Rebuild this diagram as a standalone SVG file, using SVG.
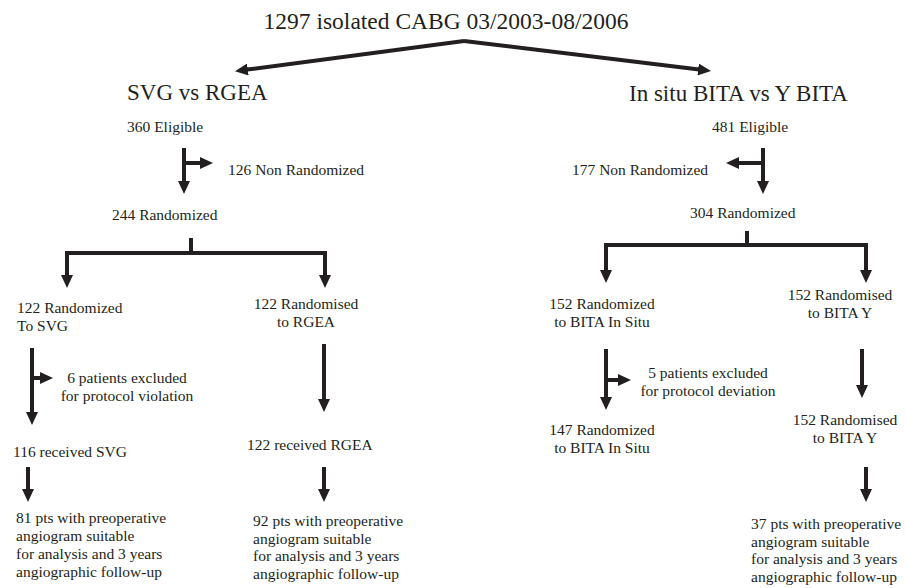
<svg xmlns="http://www.w3.org/2000/svg" width="906" height="588" viewBox="0 0 906 588">
<defs>
<marker id="ah" viewBox="0 0 13 12" refX="1" refY="6" markerWidth="13" markerHeight="12" markerUnits="userSpaceOnUse" orient="auto">
<path d="M0,0 L13,6 L0,12 z" fill="#231f20"/>
</marker>
<style>
text{font-family:"Liberation Serif","Times New Roman",serif;fill:#231f20;font-size:15.5px}
.big{font-size:23px}
.title{font-size:23.5px}
.m{text-anchor:middle}
.c path{fill:none;stroke:#231f20;stroke-width:4;stroke-linejoin:miter}
.c .a{marker-end:url(#ah)}
</style>
</defs>
<rect width="906" height="588" fill="#fff"/>
<g id="title"><text class="title m" x="446" y="29">1297 isolated CABG 03/2003-08/2006</text></g>
<g id="svg-rgea"><text class="big" x="127" y="100">SVG vs RGEA</text></g>
<g id="bita"><text class="big" x="629" y="101">In situ BITA vs Y BITA</text></g>
<g id="elig-l"><text x="127" y="132">360 Eligible</text></g>
<g id="nonrand-l"><text x="228" y="175">126 Non Randomized</text></g>
<g id="elig-r"><text x="712" y="132">481 Eligible</text></g>
<g id="nonrand-r"><text x="572" y="175">177 Non Randomized</text></g>
<g id="rand-l"><text x="112" y="220">244 Randomized</text></g>
<g id="rand-r"><text x="690" y="218">304 Randomized</text></g>
<g id="rand-svg"><text x="17" y="313">122 Randomized</text><text x="17" y="331">To SVG</text></g>
<g id="rand-rgea"><text class="m" x="306" y="309">122 Randomised</text><text class="m" x="306" y="327">to RGEA</text></g>
<g id="excl-l"><text class="m" x="127" y="383">6 patients excluded</text><text class="m" x="127" y="401">for protocol violation</text></g>
<g id="recv-svg"><text x="13" y="457">116 received SVG</text></g>
<g id="recv-rgea"><text x="247" y="450">122 received RGEA</text></g>
<g id="fu-svg"><text x="16" y="523">81 pts with preoperative</text><text x="16" y="541">angiogram suitable</text><text x="16" y="559">for analysis and 3 years</text><text x="16" y="577">angiographic follow-up</text></g>
<g id="fu-rgea"><text x="253" y="526">92 pts with preoperative</text><text x="253" y="544">angiogram suitable</text><text x="253" y="561">for analysis and 3 years</text><text x="253" y="579">angiographic follow-up</text></g>
<g id="rand-insitu"><text class="m" x="602" y="309">152 Randomized</text><text class="m" x="602" y="327">to BITA In Situ</text></g>
<g id="rand-y"><text class="m" x="840" y="300">152 Randomised</text><text class="m" x="840" y="318">to BITA Y</text></g>
<g id="excl-r"><text class="m" x="708" y="378">5 patients excluded</text><text class="m" x="708" y="396">for protocol deviation</text></g>
<g id="recv-insitu"><text class="m" x="602" y="435">147 Randomized</text><text class="m" x="602" y="453">to BITA In Situ</text></g>
<g id="recv-y"><text class="m" x="845" y="425">152 Randomised</text><text class="m" x="845" y="443">to BITA Y</text></g>
<g id="fu-y"><text x="751" y="529">37 pts with preoperative</text><text x="751" y="547">angiogram suitable</text><text x="751" y="564">for analysis and 3 years</text><text x="751" y="582">angiographic follow-up</text></g>
<g id="connectors" class="c">
<path class="a" d="M464,41 L246.9,69.6"/>
<path class="a" d="M464,41 L699.1,69.6"/>
<path class="a" d="M184,148 V182"/>
<path class="a" d="M184,163 H201"/>
<path class="a" d="M763,148 V182"/>
<path class="a" d="M763,163 H738"/>
<path class="a" d="M191,238 V253 H67 V276"/>
<path class="a" d="M191,253 H325 V276"/>
<path class="a" d="M747,231 V245 H606 V271"/>
<path class="a" d="M747,245 H866 V271"/>
<path class="a" d="M32,348 V413"/>
<path class="a" d="M32,378 H41"/>
<path class="a" d="M324,344 V400"/>
<path class="a" d="M28,467 V490"/>
<path class="a" d="M324,467 V490"/>
<path class="a" d="M606,349 V398"/>
<path class="a" d="M606,380 H619"/>
<path class="a" d="M862,349 V386"/>
<path class="a" d="M866,467 V490"/>
</g>
</svg>
